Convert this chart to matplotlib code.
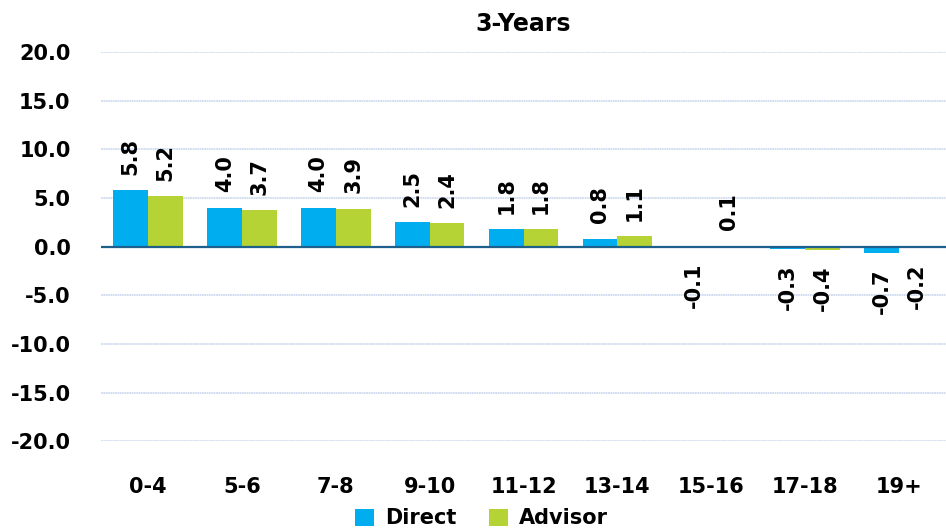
"""3-Years returns by age bucket, Direct vs Advisor."""

import matplotlib
matplotlib.use("Agg")
import matplotlib.pyplot as plt
import numpy as np

categories = ["0-4", "5-6", "7-8", "9-10", "11-12", "13-14", "15-16", "17-18", "19+"]
direct = [5.8, 4.0, 4.0, 2.5, 1.8, 0.8, -0.1, -0.3, -0.7]
advisor = [5.2, 3.7, 3.9, 2.4, 1.8, 1.1, 0.1, -0.4, -0.2]
yticks = [-20, -15, -10, -5, 0, 5, 10, 15, 20]


def main() -> None:
    plt.rcParams["font.family"] = ["DejaVu Sans"]
    plt.rcParams["font.weight"] = "bold"

    fig = plt.figure(figsize=(9.46, 5.29), dpi=100)
    ax = fig.add_axes([0.107, 0.166, 0.893, 0.736])

    x = np.arange(len(categories))
    w = 0.37
    b1 = ax.bar(x - w / 2, direct, w, color="#00aeef", label="Direct", zorder=2)
    b2 = ax.bar(x + w / 2, advisor, w, color="#b5d334", label="Advisor", zorder=2)

    # value labels, rotated, offset a fixed distance from the bar end
    for bars, vals in ((b1, direct), (b2, advisor)):
        for rect, v in zip(bars, vals):
            cx = rect.get_x() + rect.get_width() / 2
            off = 11 if v >= 0 else -11
            ax.annotate(f"{v:.1f}", (cx, v), xytext=(0, off), textcoords="offset points",
                        rotation=90, ha="center", va="bottom" if v >= 0 else "top",
                        fontsize=15, fontweight="bold", color="black")

    ax.set_xlim(-0.5, len(categories) - 0.5)
    ax.set_ylim(-20, 20)
    ax.set_yticks(yticks)
    ax.set_yticklabels([f"{t:.1f}" for t in yticks])
    ax.set_xticks(x)
    ax.set_xticklabels(categories)
    ax.tick_params(axis="both", length=0, labelsize=15)
    ax.tick_params(axis="y", pad=22)
    ax.tick_params(axis="x", pad=26)
    for lab in ax.get_xticklabels() + ax.get_yticklabels():
        lab.set_fontweight("bold")

    ax.grid(axis="y", color="#cfdcef", linewidth=1.3, linestyle=(0, (1, 0.3)), zorder=0)
    ax.axhline(0, color="#1f5f8b", linewidth=1.6, zorder=3)
    for s in ax.spines.values():
        s.set_visible(False)

    ax.set_title("3-Years", fontsize=17, fontweight="bold", pad=15)

    fig.legend(loc="center", bbox_to_anchor=(0.509, 0.02), ncol=2, frameon=False,
               handlelength=0.9, handleheight=0.9, handletextpad=0.5,
               columnspacing=1.6, prop={"weight": "bold", "size": 15})

    fig.savefig("out.png", dpi=100)


if __name__ == "__main__":
    main()
